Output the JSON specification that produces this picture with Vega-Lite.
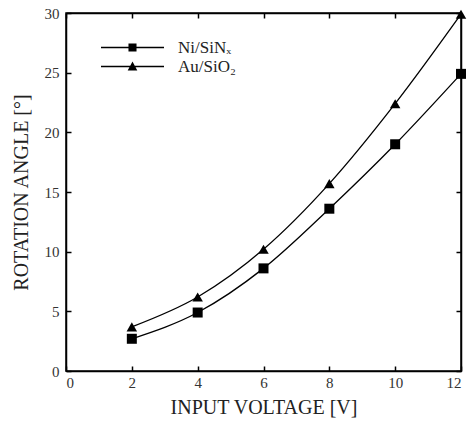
{
  "$schema": "https://vega.github.io/schema/vega-lite/v6.json",
  "width": 395,
  "height": 358,
  "autosize": {"type": "none"},
  "padding": {"left": 66, "top": 13, "right": 8, "bottom": 50},
  "background": "white",
  "config": {
    "view": {"stroke": "black", "strokeWidth": 1.5},
    "font": "Liberation Serif",
    "axis": {
      "labelFont": "Liberation Serif",
      "titleFont": "Liberation Serif",
      "labelFontSize": 15,
      "titleFontSize": 20,
      "labelColor": "#333",
      "titleColor": "#222",
      "titleFontWeight": "normal",
      "grid": false,
      "domainColor": "black",
      "domainWidth": 1.5,
      "tickColor": "black",
      "tickWidth": 1.5,
      "tickSize": -5
    }
  },
  "data": {
    "values": [
      {"v": 2, "angle": 2.7, "series": "Ni/SiNₓ"},
      {"v": 4, "angle": 4.9, "series": "Ni/SiNₓ"},
      {"v": 6, "angle": 8.6, "series": "Ni/SiNₓ"},
      {"v": 8, "angle": 13.6, "series": "Ni/SiNₓ"},
      {"v": 10, "angle": 19.0, "series": "Ni/SiNₓ"},
      {"v": 12, "angle": 24.9, "series": "Ni/SiNₓ"},
      {"v": 2, "angle": 3.7, "series": "Au/SiO₂"},
      {"v": 4, "angle": 6.2, "series": "Au/SiO₂"},
      {"v": 6, "angle": 10.2, "series": "Au/SiO₂"},
      {"v": 8, "angle": 15.7, "series": "Au/SiO₂"},
      {"v": 10, "angle": 22.4, "series": "Au/SiO₂"},
      {"v": 12, "angle": 29.9, "series": "Au/SiO₂"}
    ]
  },
  "layer": [
    {
      "mark": {"type": "line", "interpolate": "monotone", "color": "black", "strokeWidth": 1.3},
      "encoding": {
        "x": {"field": "v", "type": "quantitative", "scale": {"domain": [0, 12], "nice": false},
              "axis": {"orient": "top", "labels": false, "title": null, "values": [0, 2, 4, 6, 8, 10, 12]}},
        "y": {"field": "angle", "type": "quantitative", "scale": {"domain": [0, 30], "nice": false},
              "axis": {"orient": "right", "labels": false, "title": null, "values": [0, 5, 10, 15, 20, 25, 30]}},
        "detail": {"field": "series"}
      }
    },
    {
      "transform": [{"filter": "datum.series === 'Ni/SiNₓ'"}],
      "mark": {"type": "point", "filled": true, "color": "black", "opacity": 1, "size": 100, "shape": "square"},
      "encoding": {
        "x": {"field": "v", "type": "quantitative",
              "axis": {"orient": "bottom", "title": "INPUT VOLTAGE [V]", "values": [0, 2, 4, 6, 8, 10, 12], "labelPadding": 9, "titlePadding": 7}},
        "y": {"field": "angle", "type": "quantitative",
              "axis": {"orient": "left", "title": "ROTATION ANGLE [°]", "values": [0, 5, 10, 15, 20, 25, 30], "labelPadding": 12, "titlePadding": 13}}
      }
    },
    {
      "transform": [{"filter": "datum.series === 'Au/SiO₂'"}],
      "mark": {"type": "point", "filled": true, "color": "black", "opacity": 1, "size": 110, "shape": "triangle-up"},
      "encoding": {
        "x": {"field": "v", "type": "quantitative", "axis": null},
        "y": {"field": "angle", "type": "quantitative", "axis": null}
      }
    },
    {
      "transform": [{"filter": "datum.v < 0"}],
      "mark": {"type": "point", "filled": true, "color": "black", "opacity": 1},
      "encoding": {
        "x": {"field": "v", "type": "quantitative", "axis": null},
        "y": {"field": "angle", "type": "quantitative", "axis": null},
        "shape": {
          "field": "series", "type": "nominal",
          "scale": {"domain": ["Ni/SiNₓ", "Au/SiO₂"], "range": ["M-5.25,-0.11H5.25V0.11H-5.25ZM-0.67,-0.67H0.67V0.67H-0.67Z", "M-5.25,-0.11H5.25V0.11H-5.25ZM0,-0.85L0.8,0.67H-0.8Z"]},
          "legend": {
            "title": null,
            "orient": "none",
            "legendX": 58,
            "legendY": 26,
            "symbolSize": 144,
            "symbolFillColor": "black",
            "labelFont": "Liberation Serif",
            "labelFontSize": 17,
            "labelColor": "#222",
            "labelOffset": 37,
            "rowPadding": 1
          }
        }
      }
    }
  ]
}
